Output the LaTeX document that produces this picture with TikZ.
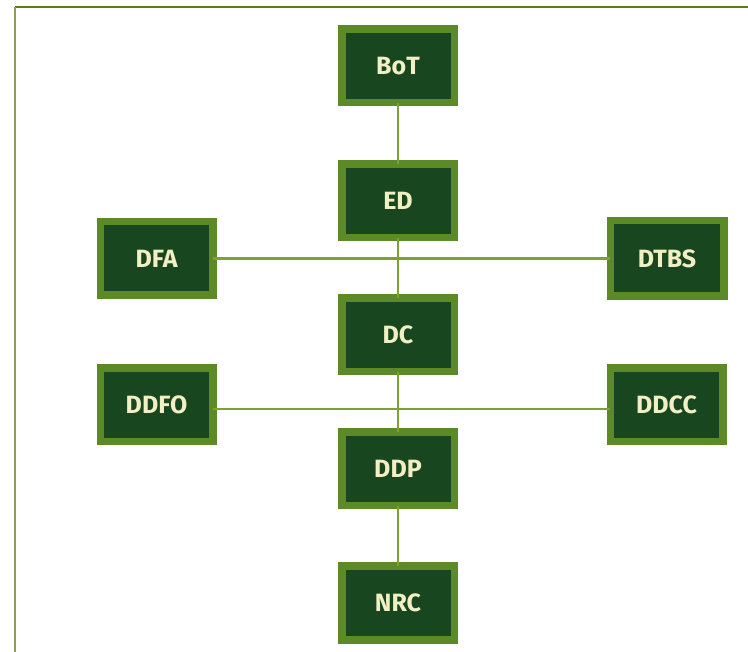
\documentclass[tikz,border=0pt]{standalone}
\usepackage{fontspec}
\setmainfont{Fira Sans}
\definecolor{boxborder}{HTML}{5C8A27}
\definecolor{boxfill}{HTML}{17461F}
\definecolor{boxtext}{HTML}{F3EFC4}
\definecolor{linkgreen}{HTML}{7DA232}
\definecolor{frametop}{HTML}{5F7A10}
\definecolor{frameleft}{HTML}{8C9C62}
\begin{document}
\begin{tikzpicture}[x=1pt,y=-1pt,
  unitbox/.style={draw=boxborder,line width=7.5pt,fill=boxfill,
    minimum width=112.5pt,minimum height=73.5pt,inner sep=0pt,outer sep=0pt,
    text=boxtext,font=\fontsize{25}{30}\selectfont\bfseries},
  link/.style={draw=linkgreen,line width=2.6pt}]
\useasboundingbox (0,0) rectangle (748,652);
\draw[frametop,line width=1.6pt] (15,7) -- (748,7);
\draw[frameleft,line width=1.6pt] (15,7) -- (15,652);
\node[unitbox] (BoT) at (398,66) {BoT};
\node[unitbox] (ED) at (398,201) {ED};
\node[unitbox] (DC) at (398,335) {DC};
\node[unitbox] (DDP) at (398,469) {DDP};
\node[unitbox] (NRC) at (398,603) {NRC};
\node[unitbox] (DFA) at (156.5,258.5) {DFA};
\node[unitbox,minimum width=113.5pt,minimum height=75.5pt] (DTBS) at (667,258.5) {DTBS};
\node[unitbox] (DDFO) at (156.5,405) {DDFO};
\node[unitbox] (DDCC) at (666.5,405) {DDCC};
\draw[link] (BoT.south) -- (ED.north);
\draw[link] (ED.south) -- (DC.north);
\draw[link] (DC.south) -- (DDP.north);
\draw[link] (DDP.south) -- (NRC.north);
\draw[link] (DFA.east) -- (DTBS.west);
\draw[link] ([yshift=-4pt]DDFO.east) -- ([yshift=-4pt]DDCC.west);
\end{tikzpicture}
\end{document}
